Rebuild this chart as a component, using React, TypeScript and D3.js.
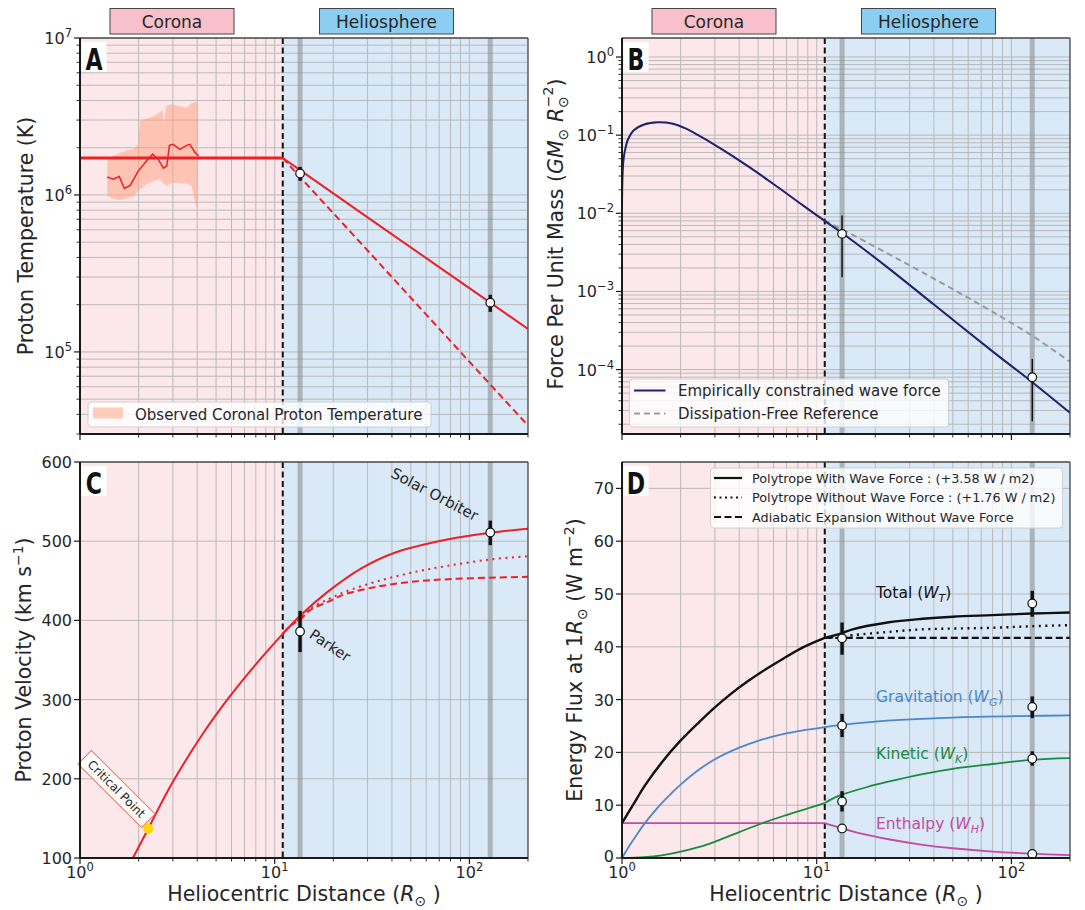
import React from "react";
import * as d3 from "d3";

// ---------------- DATA ----------------
const R_MIN = 1;
const R_MAX = 200;
const R_BOUNDARY = 11;
const R_PSP = 13.5;
const R_SOLO = 128;

// Panel A: proton temperature
const tempFlatR = [1, 11];
const tempFlatT = [1.72e6, 1.72e6];
const tempPolyR = [11, 13.5, 30, 60, 128, 200];
const tempPolyT = [1.72e6, 1.44e6, 7.2e5, 3.96e5, 2.06e5, 1.4e5];
const tempAdiaR = [11, 13.5, 30, 60, 128, 200];
const tempAdiaT = [1.72e6, 1.3e6, 4.43e5, 1.73e5, 6.2e4, 3.4e4];
const obsLineR = [1.38, 1.48, 1.59, 1.69, 1.81, 1.99, 2.2, 2.36, 2.52, 2.68, 2.79, 2.88, 3.01, 3.26, 3.53, 3.67, 3.9, 4.08];
const obsLineT = [1.3e6, 1.26e6, 1.31e6, 1.1e6, 1.15e6, 1.42e6, 1.65e6, 1.82e6, 1.69e6, 1.48e6, 1.53e6, 2.07e6, 2.1e6, 1.95e6, 2.07e6, 2.1e6, 1.86e6, 1.77e6];
const obsBandR = [1.38, 1.48, 1.605, 1.737, 1.879, 1.993, 2.033, 2.199, 2.38, 2.576, 2.658, 2.7, 2.765, 2.957, 3.264, 3.53, 3.746, 3.896, 4.005];
const obsBandHi = [1.65e6, 1.77e6, 1.86e6, 1.91e6, 1.96e6, 2.1e6, 2.96e6, 3.07e6, 3.16e6, 3.38e6, 3.48e6, 2.82e6, 3.69e6, 3.78e6, 3.66e6, 3.6e6, 3.84e6, 3.91e6, 3.88e6];
const obsBandLo = [0.986e6, 0.948e6, 0.925e6, 0.948e6, 0.986e6, 1.061e6, 1.087e6, 1.17e6, 1.229e6, 1.259e6, 1.199e6, 1.187e6, 1.142e6, 1.199e6, 1.187e6, 1.187e6, 1.142e6, 0.894e6, 0.819e6];
const tempPtR = [13.5, 128];
const tempPtV = [1.37e6, 2.06e5];
const tempPtLo = [1.23e6, 1.8e5];
const tempPtHi = [1.51e6, 2.31e5];

// Panel B: force per unit mass
const forceR = [1.0, 1.004, 1.015, 1.033, 1.077, 1.146, 1.3, 1.53, 1.8, 2.12, 2.5, 2.95, 3.6, 4.45, 5.5, 6.7, 8.5, 11, 13.5, 23, 40, 80, 128, 200];
const forceF = [0.012, 0.025, 0.045, 0.062, 0.09, 0.115, 0.137, 0.146, 0.141, 0.122, 0.0977, 0.0768, 0.0564, 0.0398, 0.0276, 0.01945, 0.01262, 0.008, 0.0056, 0.00205, 6.8e-4, 1.71e-4, 6.9e-5, 2.8e-5];
const dissR = [11, 13.5, 23.1, 34.8, 52.6, 79.3, 128, 200];
const dissF = [0.0081, 0.00623, 0.00307, 0.001763, 9.97e-4, 5.56e-4, 2.71e-4, 1.26e-4];
const forcePtR = [13.5, 128];
const forcePtV = [5.46e-3, 8.0e-5];
const forcePtLo = [1.52e-3, 2.18e-5];
const forcePtHi = [9.4e-3, 1.37e-4];

// Panel C: proton velocity
const velR = [1.7, 1.87, 2.24, 2.95, 4.2, 5.84, 8.0, 11, 12, 13.5, 18.7, 28, 42, 78, 128, 200];
const velV = [81, 100, 137, 193, 254, 303, 344.5, 383, 393, 406, 436, 466, 486, 502.5, 510.7, 515.7];
const velDotR = [11, 12, 13.5, 15.2, 19, 22.9, 34.4, 52, 77.7, 128, 200];
const velDotV = [383, 393, 402, 415, 427, 436, 450, 461, 469, 477, 481];
const velDashR = [11, 12, 13.5, 15.2, 19, 22.9, 34.4, 52, 77.7, 128, 200];
const velDashV = [383, 393, 401, 413, 424, 433, 443, 449, 452, 454, 455];
const velPtR = [13.5, 128];
const velPtV = [386, 511];
const velPtLo = [360, 495];
const velPtHi = [412, 526];
const criticalR = 2.24;
const criticalV = 137;

// Panel D: energy flux
const totInR = [1, 1.15, 1.31, 1.6, 1.97, 2.5, 2.97, 3.6, 4.48, 5.5, 6.76, 8.5, 11];
const totInW = [6.6, 10.3, 13.7, 18.1, 22.0, 25.8, 28.4, 31.0, 33.6, 35.8, 37.8, 39.9, 41.7];
const totWaveR = [11, 13.5, 15.3, 23.1, 34.9, 50, 79.4, 128, 200];
const totWaveW = [41.7, 42.6, 43.3, 44.6, 45.3, 45.7, 46.0, 46.3, 46.5];
const totNoWaveR = [11, 13.5, 15.3, 23.1, 34.9, 79.4, 128, 200];
const totNoWaveW = [41.7, 41.95, 42.2, 42.8, 43.3, 43.6, 43.9, 44.1];
const totAdiaR = [11, 200];
const totAdiaW = [41.7, 41.7];
const gravR = [1, 1.05, 1.1, 1.2, 1.31, 1.45, 1.6, 1.8, 2, 2.5, 3, 4, 5, 6.8, 9, 11, 13.5, 23, 50, 128, 200];
const gravW = [0, 1.3, 2.5, 4.6, 6.6, 8.6, 10.4, 12.3, 13.9, 16.8, 18.7, 20.9, 22.2, 23.5, 24.3, 24.8, 25.2, 26.0, 26.6, 26.9, 27.0];
const kinInR = [1, 1.3, 1.6, 2, 2.5, 3, 4, 5, 6.8, 9, 11];
const kinInW = [0, 0.15, 0.5, 1.2, 2.1, 3.1, 4.9, 6.3, 8.0, 9.4, 10.4];
const kinOutR = [11, 12, 13.5, 18, 23, 35, 50, 80, 128, 200];
const kinOutW = [10.4, 11.2, 12.0, 13.4, 14.4, 15.9, 16.9, 17.8, 18.6, 18.9];
const enthInR = [1, 11];
const enthInW = [6.6, 6.6];
const enthOutR = [11, 13.5, 17, 23, 35, 50, 80, 128, 200];
const enthOutW = [6.6, 5.6, 4.6, 3.6, 2.5, 1.85, 1.22, 0.82, 0.55];
const fluxPtR = [13.5, 13.5, 13.5, 13.5, 128, 128, 128, 128];
const fluxPtV = [41.6, 25.1, 10.7, 5.6, 48.2, 28.6, 18.8, 0.76];
const fluxPtLo = [38.5, 22.9, 8.8, 5.6, 45.7, 26.5, 17.5, 0.76];
const fluxPtHi = [44.6, 27.3, 12.65, 5.6, 50.6, 30.6, 20.2, 0.76];

const xMajorVals = [1, 10, 100];
const yMajorA = [1e5, 1e6, 1e7];
const yMajorB = [1e-4, 1e-3, 1e-2, 1e-1, 1];
const yTicksC = [100, 200, 300, 400, 500, 600];
const yTicksD = [0, 10, 20, 30, 40, 50, 60, 70];

// ---------------- STYLE ----------------
const FONT = "'DejaVu Sans', 'Liberation Sans', sans-serif";
const TXT = "#262626";
const W = 448;
const H = 396;
const PINK = "#fce7eb";
const BLUE = "#d9e9f7";
const GRID = "#b4b4b4";
const RED = "#ee2026";
const NAVY = "#1f216f";
const GBLUE = "#4a88cb";
const GREEN = "#1a8a3e";
const MAGENTA = "#c44aa6";

const xs = d3.scaleLog().domain([R_MIN, R_MAX]).range([0, W]);

type Scale = (v: number) => number;

function pts(a: number[], b: number[]): [number, number][] {
  return a.map((v, i) => [v, b[i]]);
}

function pathOf(ys: Scale, r: number[], v: number[], smooth = true) {
  const gen = d3
    .line<[number, number]>()
    .x((d) => xs(d[0]))
    .y((d) => ys(d[1]))
    .curve(smooth ? d3.curveCatmullRom.alpha(0.5) : d3.curveLinear);
  return gen(pts(r, v)) || "";
}

function expStr(e: number) {
  return e < 0 ? `\u2212${-e}` : `${e}`;
}

function PowLabel({ x, y, e, anchor }: { x: number; y: number; e: number; anchor: "middle" | "end" }) {
  return (
    <text x={x} y={y} textAnchor={anchor} fontSize={16} fontFamily={FONT} fill={TXT}>
      10
      <tspan dy={-7} fontSize={11.5}>
        {expStr(e)}
      </tspan>
    </text>
  );
}

function ErrPoints({ ys, r, v, lo, hi, thick }: { ys: Scale; r: number[]; v: number[]; lo: number[]; hi: number[]; thick: boolean }) {
  return (
    <g>
      {r.map((rr, i) => (
        <g key={i}>
          {lo[i] !== hi[i] && (
            <line x1={xs(rr)} x2={xs(rr)} y1={ys(lo[i])} y2={ys(hi[i])} stroke="#111" strokeWidth={thick ? 3.4 : 1.5} />
          )}
          <circle cx={xs(rr)} cy={ys(v[i])} r={4.3} fill="#fff" stroke="#111" strokeWidth={1.2} />
        </g>
      ))}
    </g>
  );
}

interface FrameProps {
  id: string;
  left: number;
  top: number;
  ys: any;
  yGrid: number[];
  yMajor: number[];
  yMinor: number[];
  yLabelEl: (v: number, y: number) => React.ReactNode;
  xLabels: boolean;
  letter: string;
  children?: React.ReactNode;
  overlay?: React.ReactNode;
}

function Frame(p: FrameProps) {
  const xAll = xs.ticks().filter((v) => v >= R_MIN && v <= R_MAX);
  const xGrid = xAll.filter((v) => v > R_MIN && v < R_MAX);
  const xb = xs(R_BOUNDARY);
  return (
    <g transform={`translate(${p.left},${p.top})`}>
      <defs>
        <clipPath id={`clip-${p.id}`}>
          <rect x={0} y={0} width={W} height={H} />
        </clipPath>
      </defs>
      <rect x={0} y={0} width={xb} height={H} fill={PINK} />
      <rect x={xb} y={0} width={W - xb} height={H} fill={BLUE} />
      {xGrid.map((v) => (
        <line key={"gx" + v} x1={xs(v)} x2={xs(v)} y1={0} y2={H} stroke={GRID} strokeWidth={0.9} />
      ))}
      {p.yGrid.map((v) => (
        <line key={"gy" + v} x1={0} x2={W} y1={p.ys(v)} y2={p.ys(v)} stroke={GRID} strokeWidth={0.9} />
      ))}
      {[R_PSP, R_SOLO].map((r) => (
        <line key={"band" + r} x1={xs(r)} x2={xs(r)} y1={0} y2={H} stroke="#7f7f7f" strokeOpacity={0.5} strokeWidth={5} />
      ))}
      <line x1={xb} x2={xb} y1={0} y2={H} stroke="#111" strokeWidth={2} strokeDasharray="6,3.5" />
      <g clipPath={`url(#clip-${p.id})`}>{p.children}</g>
      {p.overlay}
      <line x1={0} x2={W} y1={0} y2={0} stroke="#444" strokeWidth={1.3} />
      <line x1={W} x2={W} y1={0} y2={H} stroke="#444" strokeWidth={1.3} />
      <line x1={0} x2={0} y1={0} y2={H} stroke="#1a1a1a" strokeWidth={2} />
      <line x1={0} x2={W} y1={H} y2={H} stroke="#1a1a1a" strokeWidth={2} />
      {xAll.map((v) => {
        const major = xMajorVals.includes(v);
        return <line key={"tx" + v} x1={xs(v)} x2={xs(v)} y1={H} y2={H + (major ? 6 : 3.5)} stroke="#1a1a1a" strokeWidth={major ? 1.2 : 0.9} />;
      })}
      {p.xLabels &&
        xMajorVals.map((v) => <PowLabel key={"lx" + v} x={xs(v)} y={H + 19.5} e={Math.round(Math.log10(v))} anchor="middle" />)}
      {p.yMajor.map((v) => (
        <line key={"ty" + v} x1={-6} x2={0} y1={p.ys(v)} y2={p.ys(v)} stroke="#1a1a1a" strokeWidth={1.2} />
      ))}
      {p.yMinor.map((v) => (
        <line key={"tym" + v} x1={-3.5} x2={0} y1={p.ys(v)} y2={p.ys(v)} stroke="#1a1a1a" strokeWidth={0.9} />
      ))}
      {p.yMajor.map((v) => (
        <g key={"ly" + v}>{p.yLabelEl(v, p.ys(v))}</g>
      ))}
      <rect x={1.5} y={4} width={25} height={30} fill="#fff" />
      <text
        x={14}
        y={32}
        textAnchor="middle"
        fontSize={30}
        fontWeight={900}
        fontFamily={"'DejaVu Sans Condensed', 'Liberation Sans Narrow', 'DejaVu Sans', sans-serif"}
        fill="#111"
        transform={`translate(14,0) scale(0.82,1) translate(-14,0)`}
      >
        {p.letter}
      </text>
    </g>
  );
}

function RegionBoxes({ left }: { left: number }) {
  return (
    <g fontFamily={FONT} fontSize={17} fill={TXT}>
      <rect x={left + 30} y={8.5} width={124} height={25.5} fill="#f8c0cb" stroke="#444" strokeWidth={1} />
      <text x={left + 92} y={27.5} textAnchor="middle" fill={TXT}>
        Corona
      </text>
      <rect x={left + 239.5} y={8.5} width={134} height={25.5} fill="#8ccdf2" stroke="#444" strokeWidth={1} />
      <text x={left + 306.5} y={27.5} textAnchor="middle" fill={TXT}>
        Heliosphere
      </text>
    </g>
  );
}

function XAxisTitle({ left }: { left: number }) {
  return (
    <text x={left + W / 2} y={901} textAnchor="middle" fontSize={20.5} fontFamily={FONT} fill={TXT}>
      Heliocentric Distance (<tspan fontStyle="italic">R</tspan>
      <tspan dy={5} fontSize={14}>
        {"\u2299"}
      </tspan>
      <tspan dy={-5}> )</tspan>
    </text>
  );
}

export default function App() {
  const ysA = d3.scaleLog().domain([3e4, 1e7]).range([H, 0]);
  const ysB = d3.scaleLog().domain([1.5e-5, 1.75]).range([H, 0]);
  const ysC = d3.scaleLinear().domain([100, 600]).range([H, 0]);
  const ysD = d3.scaleLinear().domain([0, 75]).range([H, 0]);

  const logMinor = (s: any, major: number[]) => (s.ticks() as number[]).filter((v) => !major.some((m) => Math.abs(m - v) / m < 1e-6));
  const yAllA = (ysA.ticks() as number[]).filter((v) => v > 3e4 * 0.999 && v < 1e7 * 0.999);
  const yAllB = (ysB.ticks() as number[]).filter((v) => v > 1.5e-5 && v < 1.75);

  const bandArea =
    d3
      .area<number>()
      .x((i) => xs(obsBandR[i]))
      .y0((i) => ysA(obsBandLo[i]))
      .y1((i) => ysA(obsBandHi[i]))(obsBandR.map((_, i) => i)) || "";

  const powY = (v: number, y: number) => <PowLabel x={-8} y={y + 6} e={Math.round(Math.log10(v))} anchor="end" />;
  const linY = (v: number, y: number) => (
    <text x={-8} y={v === 0 ? y + 4 : y + 6} textAnchor="end" fontSize={16} fontFamily={FONT} fill={TXT}>
      {v}
    </text>
  );

  return (
    <svg width={1085} height={910} style={{ position: "absolute", left: 0, top: 0, display: "block", background: "#fff" }}>
      <rect x={0} y={0} width={1085} height={910} fill="#fff" />
      <RegionBoxes left={80} />
      <RegionBoxes left={622} />

      {/* ---------- Panel A ---------- */}
      <Frame
        id="A"
        left={80}
        top={38}
        ys={ysA}
        yGrid={yAllA}
        yMajor={yMajorA}
        yMinor={logMinor(ysA, yMajorA).filter((v) => v > 3e4 * 0.999)}
        yLabelEl={powY}
        xLabels={false}
        letter="A"
        overlay={
          <g>
            <ErrPoints ys={ysA} r={tempPtR} v={tempPtV} lo={tempPtLo} hi={tempPtHi} thick />
            <rect x={8} y={364} width={343} height={25} rx={3} fill="#fff" fillOpacity={0.8} stroke="#d0d0d0" />
            <rect x={13} y={369.5} width={30} height={11} fill="#ffa07a" fillOpacity={0.5} />
            <text x={55} y={381.5} fontSize={15} fontFamily={FONT} fill={TXT}>
              Observed Coronal Proton Temperature
            </text>
          </g>
        }
      >
        <path d={bandArea} fill="#ffa07a" fillOpacity={0.5} />
        <path d={pathOf(ysA, obsLineR, obsLineT, false)} fill="none" stroke={RED} strokeWidth={1.5} />
        <path d={pathOf(ysA, tempFlatR, tempFlatT, false)} fill="none" stroke={RED} strokeWidth={2.8} />
        <path d={pathOf(ysA, tempAdiaR, tempAdiaT, false)} fill="none" stroke={RED} strokeWidth={2} strokeDasharray="7,4" />
        <path d={pathOf(ysA, tempPolyR, tempPolyT, false)} fill="none" stroke={RED} strokeWidth={2} />
      </Frame>
      <text transform="translate(33,236) rotate(-90)" textAnchor="middle" fontSize={20.5} fontFamily={FONT} fill={TXT}>
        Proton Temperature (K)
      </text>

      {/* ---------- Panel B ---------- */}
      <Frame
        id="B"
        left={622}
        top={38}
        ys={ysB}
        yGrid={yAllB}
        yMajor={yMajorB}
        yMinor={logMinor(ysB, yMajorB).filter((v) => v > 1.5e-5 && v < 1.75)}
        yLabelEl={powY}
        xLabels={false}
        letter="B"
        overlay={
          <g>
            <ErrPoints ys={ysB} r={forcePtR} v={forcePtV} lo={forcePtLo} hi={forcePtHi} thick={false} />
            <rect x={7.5} y={341} width={319} height={48} rx={3} fill="#fff" fillOpacity={0.8} stroke="#d0d0d0" />
            <line x1={12} x2={43.5} y1={352.5} y2={352.5} stroke={NAVY} strokeWidth={2} />
            <line x1={12} x2={43.5} y1={375.5} y2={375.5} stroke="#9a9a9a" strokeWidth={2} strokeDasharray="6,4" />
            <text x={56} y={357.5} fontSize={15} fontFamily={FONT} fill={TXT}>
              Empirically constrained wave force
            </text>
            <text x={56} y={380.5} fontSize={15} fontFamily={FONT} fill={TXT}>
              Dissipation-Free Reference
            </text>
          </g>
        }
      >
        <path d={pathOf(ysB, dissR, dissF)} fill="none" stroke="#9a9a9a" strokeWidth={2} strokeDasharray="6,4" />
        <path d={pathOf(ysB, forceR, forceF)} fill="none" stroke={NAVY} strokeWidth={2} />
      </Frame>
      <text transform="translate(563,234) rotate(-90)" textAnchor="middle" fontSize={20.5} fontFamily={FONT} fill={TXT}>
        Force Per Unit Mass (<tspan fontStyle="italic">GM</tspan>
        <tspan dy={5} fontSize={14}>
          {"\u2299"}
        </tspan>
        <tspan dy={-5} fontStyle="italic">
          {" R"}
        </tspan>
        <tspan dy={5} fontSize={14}>
          {"\u2299"}
        </tspan>
        <tspan dy={-15} dx={-11} fontSize={14}>
          {"\u22122"}
        </tspan>
        <tspan dy={10}>)</tspan>
      </text>

      {/* ---------- Panel C ---------- */}
      <Frame
        id="C"
        left={80}
        top={462}
        ys={ysC}
        yGrid={yTicksC.filter((v) => v > 100 && v < 600)}
        yMajor={yTicksC}
        yMinor={[]}
        yLabelEl={linY}
        xLabels
        letter="C"
        overlay={
          <g>
            <ErrPoints ys={ysC} r={velPtR} v={velPtV} lo={velPtLo} hi={velPtHi} thick />
            <circle cx={xs(criticalR)} cy={ysC(criticalV)} r={5} fill="#ffd700" />
            <g transform={`translate(36.5,327) rotate(45)`}>
              <rect x={-45} y={-9.5} width={90} height={19} fill="#fff" fillOpacity={0.85} stroke="#f07860" strokeWidth={1} />
              <text x={0} y={4.2} textAnchor="middle" fontSize={12} fontFamily={FONT} fill={TXT}>
                Critical Point
              </text>
            </g>
            <text transform="translate(250,183.5) rotate(33.7)" textAnchor="middle" dominantBaseline="central" fontSize={14.5} fontFamily={FONT} fill={TXT}>
              Parker
            </text>
            <text transform="translate(354.5,32.5) rotate(27.8)" textAnchor="middle" dominantBaseline="central" fontSize={15} fontFamily={FONT} fill={TXT}>
              Solar Orbiter
            </text>
          </g>
        }
      >
        <path d={pathOf(ysC, velDashR, velDashV)} fill="none" stroke={RED} strokeWidth={2} strokeDasharray="7,4" />
        <path d={pathOf(ysC, velDotR, velDotV)} fill="none" stroke={RED} strokeWidth={2} strokeDasharray="2,4.5" />
        <path d={pathOf(ysC, velR, velV)} fill="none" stroke={RED} strokeWidth={2} />
      </Frame>
      <text transform="translate(31,660) rotate(-90)" textAnchor="middle" fontSize={20.5} fontFamily={FONT} fill={TXT}>
        Proton Velocity (km s
        <tspan dy={-8} fontSize={14}>
          {"\u22121"}
        </tspan>
        <tspan dy={8}>)</tspan>
      </text>
      <XAxisTitle left={80} />

      {/* ---------- Panel D ---------- */}
      <Frame
        id="D"
        left={622}
        top={462}
        ys={ysD}
        yGrid={yTicksD.filter((v) => v > 0)}
        yMajor={yTicksD}
        yMinor={[]}
        yLabelEl={linY}
        xLabels
        letter="D"
        overlay={
          <g>
            <ErrPoints ys={ysD} r={fluxPtR} v={fluxPtV} lo={fluxPtLo} hi={fluxPtHi} thick />
            <rect x={88.5} y={6} width={352} height={60} rx={3} fill="#fff" fillOpacity={0.8} stroke="#d0d0d0" />
            <line x1={92} x2={120} y1={16} y2={16} stroke="#111" strokeWidth={2.2} />
            <line x1={92} x2={120} y1={35.5} y2={35.5} stroke="#111" strokeWidth={2.2} strokeDasharray="2,3.5" />
            <line x1={92} x2={120} y1={55} y2={55} stroke="#111" strokeWidth={2.2} strokeDasharray="7,3.5" />
            <g fontSize={12.8} fontFamily={FONT} fill={TXT}>
              <text x={130} y={20.5}>
                Polytrope With Wave Force : (+3.58 W / m2)
              </text>
              <text x={130} y={40}>
                Polytrope Without Wave Force : (+1.76 W / m2)
              </text>
              <text x={130} y={59.5}>
                Adiabatic Expansion Without Wave Force
              </text>
            </g>
            <g fontSize={15.5} fontFamily={FONT}>
              <text x={254} y={136} fill="#111">
                Total (<tspan fontStyle="italic">W</tspan>
                <tspan dy={4} fontSize={11} fontStyle="italic">
                  T
                </tspan>
                <tspan dy={-4}>)</tspan>
              </text>
              <text x={254} y={240} fill={GBLUE}>
                Gravitation (<tspan fontStyle="italic">W</tspan>
                <tspan dy={4} fontSize={11} fontStyle="italic">
                  G
                </tspan>
                <tspan dy={-4}>)</tspan>
              </text>
              <text x={254} y={297} fill={GREEN}>
                Kinetic (<tspan fontStyle="italic">W</tspan>
                <tspan dy={4} fontSize={11} fontStyle="italic">
                  K
                </tspan>
                <tspan dy={-4}>)</tspan>
              </text>
              <text x={254} y={367} fill={MAGENTA}>
                Enthalpy (<tspan fontStyle="italic">W</tspan>
                <tspan dy={4} fontSize={11} fontStyle="italic">
                  H
                </tspan>
                <tspan dy={-4}>)</tspan>
              </text>
            </g>
          </g>
        }
      >
        <path d={pathOf(ysD, enthInR, enthInW, false)} fill="none" stroke={MAGENTA} strokeWidth={1.8} />
        <path d={pathOf(ysD, enthOutR, enthOutW)} fill="none" stroke={MAGENTA} strokeWidth={1.8} />
        <path d={pathOf(ysD, kinInR, kinInW)} fill="none" stroke={GREEN} strokeWidth={1.8} />
        <path d={pathOf(ysD, kinOutR, kinOutW)} fill="none" stroke={GREEN} strokeWidth={1.8} />
        <path d={pathOf(ysD, gravR, gravW)} fill="none" stroke={GBLUE} strokeWidth={1.8} />
        <path d={pathOf(ysD, totAdiaR, totAdiaW, false)} fill="none" stroke="#111" strokeWidth={2.2} strokeDasharray="7,3.5" />
        <path d={pathOf(ysD, totNoWaveR, totNoWaveW)} fill="none" stroke="#111" strokeWidth={2.4} strokeDasharray="2,4.5" />
        <path d={pathOf(ysD, totWaveR, totWaveW)} fill="none" stroke="#111" strokeWidth={2.4} />
        <path d={pathOf(ysD, totInR, totInW)} fill="none" stroke="#111" strokeWidth={2.4} />
      </Frame>
      <text transform="translate(582,660) rotate(-90)" textAnchor="middle" fontSize={20.5} fontFamily={FONT} fill={TXT}>
        Energy Flux at 1<tspan fontStyle="italic">R</tspan>
        <tspan dy={5} fontSize={14}>
          {"\u2299"}
        </tspan>
        <tspan dy={-5}>{"  (W m"}</tspan>
        <tspan dy={-8} fontSize={14}>
          {"\u22122"}
        </tspan>
        <tspan dy={8}>)</tspan>
      </text>
      <XAxisTitle left={622} />
    </svg>
  );
}
